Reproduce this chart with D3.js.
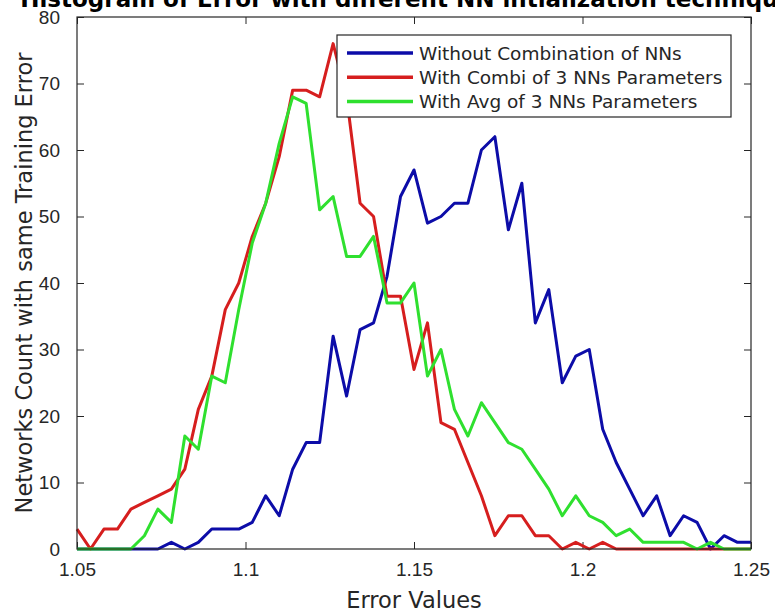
<!DOCTYPE html>
<html>
<head>
<meta charset="utf-8">
<script src="https://cdn.jsdelivr.net/npm/d3@7"></script>
<style>
  body { margin: 0; background: #fff; }
  svg { display: block; font-family: "DejaVu Sans", sans-serif; }
</style>
</head>
<body>
<div id="chart"></div>
<script>
// bin centres go from 1.05 to 1.25 in steps of 0.004
var binStart = 1.05, binStep = 0.004, binCount = 51;

var withoutComb = [0, 0, 0, 0, 0, 0, 0, 1, 0, 1, 3, 3, 3, 4, 8, 5, 12, 16, 16, 32,
    23, 33, 34, 41, 53, 57, 49, 50, 52, 52, 60, 62, 48, 55, 34, 39, 25, 29, 30, 18,
    13, 9, 5, 8, 2, 5, 4, 0, 2, 1, 1];
var withCombi = [3, 0, 3, 3, 6, 7, 8, 9, 12, 21, 26, 36, 40, 47, 52, 59, 69, 69, 68, 76,
    68, 52, 50, 38, 38, 27, 34, 19, 18, 13, 8, 2, 5, 5, 2, 2, 0, 1, 0, 1,
    0, 0, 0, 0, 0, 0, 0, 0, 0, 0, 0];
var withAvg = [0, 0, 0, 0, 0, 2, 6, 4, 17, 15, 26, 25, 36, 46, 52, 61, 68, 67, 51, 53,
    44, 44, 47, 37, 37, 40, 26, 30, 21, 17, 22, 19, 16, 15, 12, 9, 5, 8, 5, 4,
    2, 3, 1, 1, 1, 1, 0, 1, 0, 0, 0];

var seriesNames = ["Without Combination of NNs", "With Combi of 3 NNs Parameters", "With Avg of 3 NNs Parameters"];
var seriesColors = ["#0c0ca8", "#d61e1e", "#2fe02f"];
var xTicks = [1.05, 1.1, 1.15, 1.2, 1.25];
var yTicks = [0, 10, 20, 30, 40, 50, 60, 70, 80];

var W = 775, H = 615;
var margin = { top: 17, right: 24, bottom: 66, left: 77 };
var width = W - margin.left - margin.right;
var height = H - margin.top - margin.bottom;
var axisColor = "#262626";

var xScale = d3.scaleLinear().domain([1.05, 1.25]).range([0, width]);
var yScale = d3.scaleLinear().domain([0, 80]).range([height, 0]);

var bins = d3.range(binCount).map(function (i) { return binStart + i * binStep; });

var svg = d3.select("#chart").append("svg")
    .attr("width", W)
    .attr("height", H);

var g = svg.append("g")
    .attr("transform", "translate(" + margin.left + "," + margin.top + ")");

// axes, ticks pointing inwards on all four sides
function styleAxis(sel) {
    sel.select(".domain").remove();
    sel.selectAll(".tick line").attr("stroke", axisColor);
    sel.selectAll(".tick text").attr("fill", axisColor).style("font-size", "19px");
}

g.append("g")
    .attr("transform", "translate(0," + height + ")")
    .call(d3.axisBottom(xScale).tickValues(xTicks).tickSize(-7).tickPadding(14)
        .tickFormat(function (d) { return String(+d.toFixed(2)); }))
    .call(styleAxis);

g.append("g")
    .call(d3.axisTop(xScale).tickValues(xTicks).tickSize(-7).tickFormat(""))
    .call(styleAxis);

g.append("g")
    .call(d3.axisLeft(yScale).tickValues(yTicks).tickSize(-7).tickPadding(17))
    .call(styleAxis);

g.append("g")
    .attr("transform", "translate(" + width + ",0)")
    .call(d3.axisRight(yScale).tickValues(yTicks).tickSize(-7).tickFormat(""))
    .call(styleAxis);

// lines
var line = d3.line()
    .x(function (d, i) { return xScale(bins[i]); })
    .y(function (d) { return yScale(d); });

var clip = g.append("clipPath").attr("id", "plotclip")
    .append("rect").attr("x", -2).attr("y", 0).attr("width", width + 4).attr("height", height + 2);

[withoutComb, withCombi, withAvg].forEach(function (s, k) {
    g.append("path")
        .datum(s)
        .attr("fill", "none")
        .attr("stroke", seriesColors[k])
        .attr("stroke-width", 3)
        .attr("stroke-linejoin", "round")
        .attr("clip-path", "url(#plotclip)")
        .attr("d", line);
});

// box
g.append("rect")
    .attr("width", width)
    .attr("height", height)
    .attr("fill", "none")
    .attr("stroke", axisColor)
    .attr("stroke-width", 1.2);

// legend
var legend = g.append("g").attr("transform", "translate(" + (337 - margin.left) + "," + (35 - margin.top) + ")");
legend.append("rect")
    .attr("width", 394)
    .attr("height", 82)
    .attr("fill", "#fff")
    .attr("stroke", axisColor)
    .attr("stroke-width", 1.2);

seriesNames.forEach(function (name, k) {
    var yy = 18 + k * 24.3;
    legend.append("line")
        .attr("x1", 10).attr("x2", 76)
        .attr("y1", yy).attr("y2", yy)
        .attr("stroke", seriesColors[k])
        .attr("stroke-width", 3.5);
    legend.append("text")
        .attr("x", 82)
        .attr("y", yy + 6.5)
        .attr("fill", axisColor)
        .style("font-size", "18.5px")
        .text(name);
});

// labels
svg.append("text")
    .attr("x", margin.left + width / 2)
    .attr("y", 608)
    .attr("text-anchor", "middle")
    .attr("fill", axisColor)
    .style("font-size", "22.5px")
    .text("Error Values");

svg.append("text")
    .attr("transform", "translate(32," + (margin.top + height / 2) + ") rotate(-90)")
    .attr("text-anchor", "middle")
    .attr("fill", axisColor)
    .style("font-size", "22.5px")
    .text("Networks Count with same Training Error");

svg.append("text")
    .attr("x", margin.left + width / 2)
    .attr("y", 7)
    .attr("text-anchor", "middle")
    .attr("fill", "#000")
    .style("font-size", "23px")
    .style("font-weight", "bold")
    .text("Histogram of Error with different NN intialization techniques");
</script>
</body>
</html>
